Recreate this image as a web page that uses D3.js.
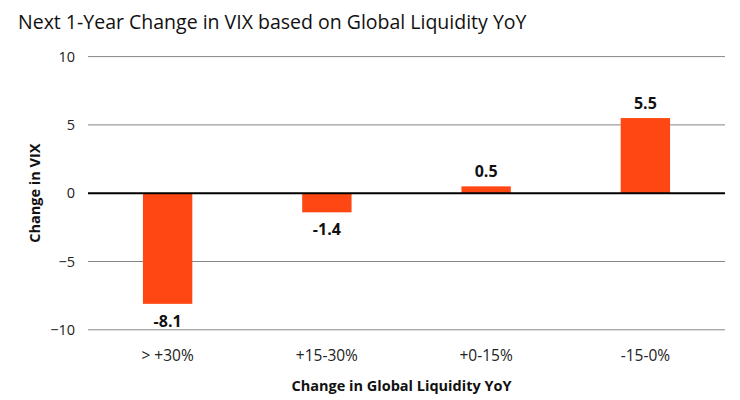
<!DOCTYPE html>
<html><head><meta charset="utf-8">
<script src="https://cdn.jsdelivr.net/npm/d3@7/dist/d3.min.js"></script>
<style>body{margin:0;background:#fff}svg{display:block}</style>
</head><body>
<svg id="c" width="740" height="400"></svg>
<script>
const categories = ["> +30%", "+15-30%", "+0-15%", "-15-0%"];
const values = [-8.1, -1.4, 0.5, 5.5];
const yTicks = [-10, -5, 0, 5, 10];
const title = "Next 1-Year Change in VIX based on Global Liquidity YoY";
const xTitle = "Change in Global Liquidity YoY";
const yTitle = "Change in VIX";

const svg = d3.select("#c");
const font = "'Open Sans', 'Liberation Sans', Arial, sans-serif";
const m = {left: 88, right: 15, top: 58, bottom: 70};
const W = 740, H = 400;
const x = d3.scaleBand().domain(categories).range([m.left, W - m.right]).paddingInner(0.69).paddingOuter(0.345);
const y = d3.scaleLinear().domain([-10, 10]).range([329.8, 56.6]);

svg.append("text").attr("x", 18).attr("y", 29).attr("font-family", font).attr("font-size", 19.5)
  .attr("fill", "#111").text(title);

const g = svg.append("g");
g.selectAll("line.grid").data(yTicks.filter(d => d !== 0)).join("line")
  .attr("x1", m.left).attr("x2", W - m.right)
  .attr("y1", d => y(d)).attr("y2", d => y(d))
  .attr("stroke", "#868686").attr("stroke-width", 1);

const yAxis = d3.axisLeft(y).tickValues(yTicks).tickSize(0).tickPadding(13).tickFormat(d3.format("d"));
const ya = svg.append("g").attr("transform", `translate(${m.left},0)`).call(yAxis);
ya.select(".domain").remove();
ya.selectAll("text").attr("font-family", font).attr("font-size", 14.5).attr("fill", "#222");

g.selectAll("rect").data(values).join("rect")
  .attr("x", (d, i) => x(categories[i]))
  .attr("width", x.bandwidth())
  .attr("y", d => y(Math.max(0, d)))
  .attr("height", d => Math.abs(y(d) - y(0)))
  .attr("fill", "#ff4713");

svg.append("line").attr("x1", m.left).attr("x2", W - m.right)
  .attr("y1", y(0)).attr("y2", y(0)).attr("stroke", "#000").attr("stroke-width", 2);

g.selectAll("text.val").data(values).join("text").attr("class", "val")
  .attr("x", (d, i) => x(categories[i]) + x.bandwidth() / 2)
  .attr("y", d => d >= 0 ? y(d) - 9 : y(d) + 23)
  .attr("text-anchor", "middle").attr("font-family", font).attr("font-weight", "bold")
  .attr("font-size", 16).attr("fill", "#111").text(d => d.toFixed(1));

const xAxis = d3.axisBottom(x).tickSize(0).tickPadding(0);
const xa = svg.append("g").attr("transform", `translate(0,${y(-10) + 26})`).call(xAxis);
xa.select(".domain").remove();
xa.selectAll("text").attr("font-family", font).attr("font-size", 15.5).attr("fill", "#222").attr("dy", "0.35em");

svg.append("text").attr("x", (m.left + W - m.right) / 2 - 5).attr("y", 391).attr("text-anchor", "middle")
  .attr("font-family", font).attr("font-weight", "bold").attr("font-size", 14.5).attr("fill", "#111").text(xTitle);

svg.append("text").attr("transform", `translate(40,${y(0)}) rotate(-90)`).attr("text-anchor", "middle")
  .attr("font-family", font).attr("font-weight", "bold").attr("font-size", 14.5).attr("fill", "#111").text(yTitle);
</script>
</body></html>
